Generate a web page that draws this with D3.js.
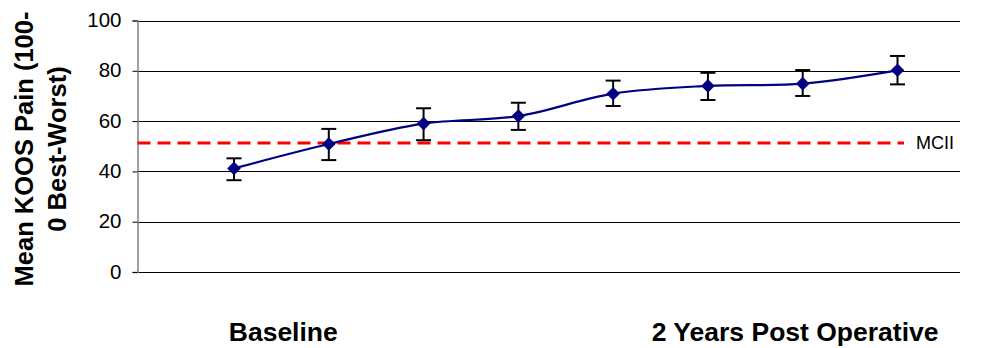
<!DOCTYPE html>
<html>
<head>
<meta charset="utf-8">
<script src="https://cdn.jsdelivr.net/npm/d3@7"></script>
<style>
  html, body { margin: 0; padding: 0; background: #fff; }
  svg { display: block; font-family: Arial, "Liberation Sans", sans-serif; }
</style>
</head>
<body>
<svg id="chart" width="985" height="348"></svg>
<script>
// ---- data ----
const timepoints = [1, 2, 3, 4, 5, 6, 7, 8];
const meanPain = [41.2, 50.9, 59.0, 62.0, 70.9, 74.0, 74.9, 80.2];
const errPlus  = [4.0, 6.0, 6.1, 5.3, 5.2, 5.2, 5.4, 5.7];
const errMinus = [4.7, 6.4, 6.6, 5.5, 4.9, 5.6, 4.9, 5.6];
const mciiValue = 51.3;
const mciiLabel = "MCII";
const yTicks = [0, 20, 40, 60, 80, 100];
const xLabels = ["Baseline", "2 Years Post Operative"];
const xLabelAt = [1.52, 6.92];
const yTitleLines = ["Mean KOOS Pain (100-", "0 Best-Worst)"];

// ---- layout ----
const svg = d3.select("#chart");
const plotLeft = 137.5, plotRight = 960, plotTop = 20.5, plotBottom = 272;

const x = d3.scaleLinear().domain([1, 8]).range([234, 897.5]);
const y = d3.scaleLinear().domain([0, 100]).range([plotBottom, plotTop]);

svg.append("rect").attr("width", 985).attr("height", 348).attr("fill", "#fff");

// gridlines
svg.append("g").selectAll("line").data(yTicks).join("line")
  .attr("x1", plotLeft).attr("x2", plotRight)
  .attr("y1", d => Math.round(y(d)) + 0.5).attr("y2", d => Math.round(y(d)) + 0.5)
  .attr("stroke", "#000").attr("stroke-width", 1);

// y axis
const yAxis = svg.append("g")
  .attr("transform", `translate(${plotLeft},0)`)
  .call(d3.axisLeft(y).tickValues(yTicks).tickSize(5).tickPadding(11).tickFormat(d3.format("d")));
yAxis.select(".domain").attr("stroke", "#808080").attr("stroke-width", 1.5);
yAxis.selectAll(".tick line").attr("stroke", "#000");
yAxis.selectAll(".tick text")
  .attr("font-size", 20.5).attr("font-family", "Arial, 'Liberation Sans', sans-serif")
  .attr("fill", "#000").attr("dy", "0.3em");

// MCII dashed line
svg.append("line")
  .attr("x1", plotLeft).attr("x2", 904)
  .attr("y1", y(mciiValue)).attr("y2", y(mciiValue))
  .attr("stroke", "#ff0000").attr("stroke-width", 3.2)
  .attr("stroke-dasharray", "13,7");
svg.append("text")
  .attr("x", 916).attr("y", y(mciiValue)).attr("dy", "0.36em")
  .attr("font-size", 18).attr("fill", "#000")
  .text(mciiLabel);

// series line (smoothed)
const pts = timepoints.map((t, i) => [x(t), y(meanPain[i])]);
svg.append("path")
  .attr("d", d3.line().curve(d3.curveCardinal.tension(0))(pts))
  .attr("fill", "none").attr("stroke", "#000080").attr("stroke-width", 2.2);

// error bars
const eb = svg.append("g").attr("stroke", "#000").attr("stroke-width", 2);
timepoints.forEach((t, i) => {
  const cx = x(t), top = y(meanPain[i] + errPlus[i]), bot = y(meanPain[i] - errMinus[i]);
  eb.append("line").attr("x1", cx).attr("x2", cx).attr("y1", top).attr("y2", bot);
  eb.append("line").attr("x1", cx - 7.5).attr("x2", cx + 7.5).attr("y1", top).attr("y2", top);
  eb.append("line").attr("x1", cx - 7.5).attr("x2", cx + 7.5).attr("y1", bot).attr("y2", bot);
});

// markers (diamonds)
svg.append("g").selectAll("path").data(timepoints).join("path")
  .attr("d", "M0,-6.8L6.8,0L0,6.8L-6.8,0Z")
  .attr("transform", (t, i) => `translate(${x(t)},${y(meanPain[i])})`)
  .attr("fill", "#000080");

// x category labels
svg.append("g").selectAll("text").data(xLabels).join("text")
  .attr("x", (d, i) => x(xLabelAt[i])).attr("y", 341)
  .attr("text-anchor", "middle").attr("font-size", 26.5).attr("font-weight", "bold")
  .attr("fill", "#000")
  .text(d => d);

// y axis title
const yt = svg.append("text")
  .attr("transform", "translate(0,149) rotate(-90)")
  .attr("text-anchor", "middle").attr("font-size", 25.5).attr("font-weight", "bold")
  .attr("fill", "#000");
yTitleLines.forEach((line, i) => {
  yt.append("tspan").attr("x", 0).attr("y", 32.5 + i * 33.3).text(line);
});
</script>
</body>
</html>
